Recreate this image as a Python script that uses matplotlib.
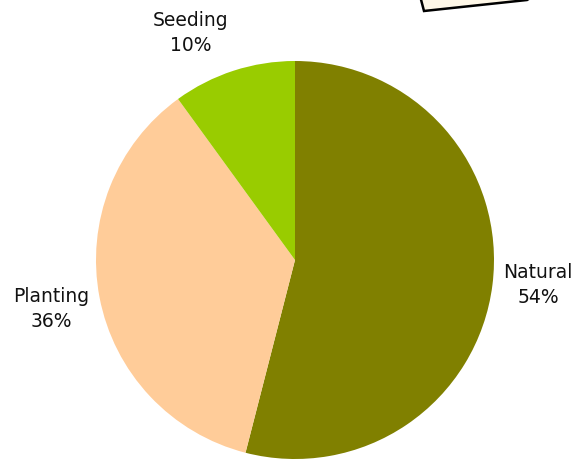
import matplotlib.pyplot as plt
from matplotlib.patches import Polygon

# share of regeneration methods, clockwise from 12 o'clock
labels = ['Natural', 'Planting', 'Seeding']
shares = [54, 36, 10]
colors = ['#808000', '#FFCC99', '#99CC00']

W, H = 578, 461
fig = plt.figure(figsize=(W / 100, H / 100), dpi=100)
ax = fig.add_axes([0, 0, 1, 1])

ax.pie(shares, colors=colors, startangle=90, counterclock=False,
       center=(295, H - 260), radius=199, frame=True,
       wedgeprops=dict(linewidth=0))
ax.set_xlim(0, W)
ax.set_ylim(0, H)
ax.set_aspect('equal')
ax.axis('off')

# category labels outside the slices
label_pos = {'Natural': (538, H - 285), 'Planting': (51, H - 309), 'Seeding': (191, H - 33)}
for name, pct in zip(labels, shares):
    x, y = label_pos[name]
    ax.text(x, y, f'{name}\n{pct}%', ha='center', va='center',
            fontsize=13.5, linespacing=1.4, color='#111111')

# tilted text box poking in from the top edge
box = Polygon([(419, H + 8), (424, H - 11), (527, H + 0), (540, H + 8)],
              closed=True, facecolor='#FFF8E8', edgecolor='black', linewidth=1.8)
ax.add_patch(box)

fig.savefig('out.png', dpi=100)
